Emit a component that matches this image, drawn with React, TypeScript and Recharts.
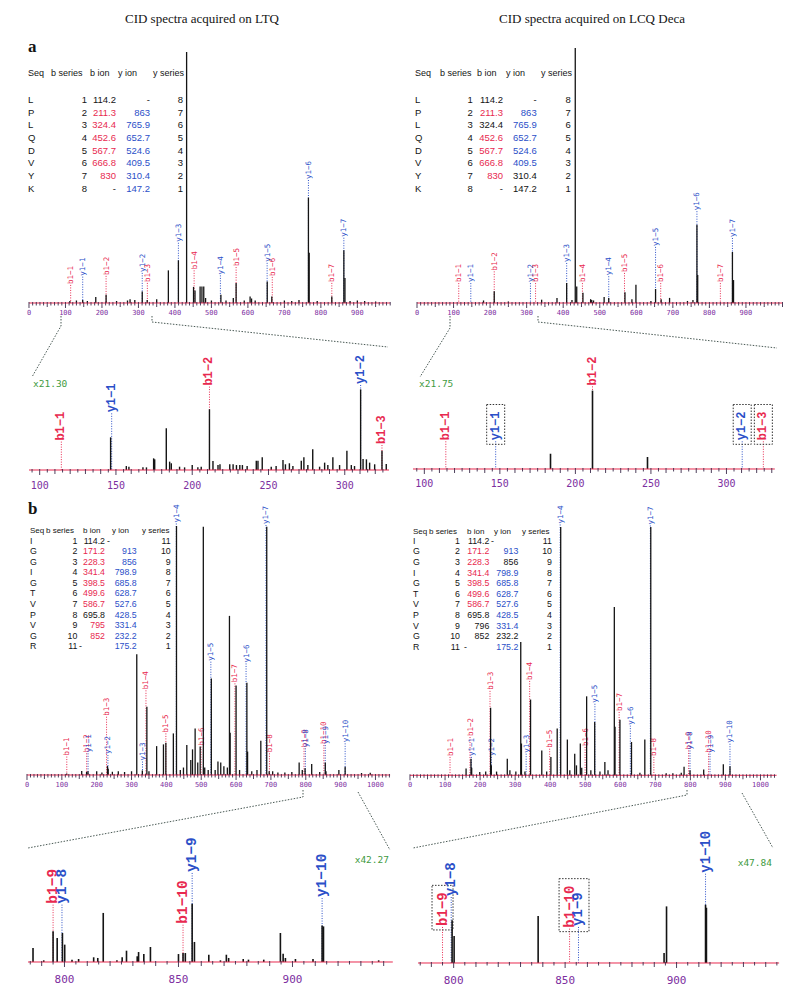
import React from 'react';
import { ComposedChart, Bar, XAxis, YAxis, ReferenceLine } from 'recharts';

type Peak = [number, number];
// [m/z, label position (intensity units), text, ion type, box: true = own box, number = box reaching to that m/z]
type Ann = [number, number, string, 'b' | 'y', (boolean | number)?];

const RED = '#e8294f';
const BLUE = '#2b4fc8';
const PURPLE = '#7d2f9f';
const GREEN = '#3f9b3f';
const INK = '#141414';

const titleLeft = 'CID spectra acquired on LTQ';
const titleRight = 'CID spectra acquired on LCQ Deca';

// ---------- tables ----------
const aSeq = ['L', 'P', 'L', 'Q', 'D', 'V', 'Y', 'K'];
const aBSeries = ['1', '2', '3', '4', '5', '6', '7', '8'];
const aBIon = ['114.2', '211.3', '324.4', '452.6', '567.7', '666.8', '830', '-'];
const aYIon = ['-', '863', '765.9', '652.7', '524.6', '409.5', '310.4', '147.2'];
const aYSeries = ['8', '7', '6', '5', '4', '3', '2', '1'];
const aLtqBCol = 'krrrrrrk';
const aLtqYCol = 'kbbbbbbb';
const aLcqBCol = 'krkrrrrk';
const aLcqYCol = 'kbbbbbkk';

const bSeq = ['I', 'G', 'G', 'I', 'G', 'T', 'V', 'P', 'V', 'G', 'R'];
const bBSeries = ['1', '2', '3', '4', '5', '6', '7', '8', '9', '10', '11'];
const bBIonLtq = ['114.2', '171.2', '228.3', '341.4', '398.5', '499.6', '586.7', '695.8', '795', '852', '-'];
const bBIonLcq = ['114.2', '171.2', '228.3', '341.4', '398.5', '499.6', '586.7', '695.8', '796', '852', '-'];
const bYIon = ['-', '913', '856', '798.9', '685.8', '628.7', '527.6', '428.5', '331.4', '232.2', '175.2'];
const bYSeries = ['11', '10', '9', '8', '7', '6', '5', '4', '3', '2', '1'];
const bLtqBCol = 'krrrrrrkrrk';
const bLtqYCol = 'kbbbbbbbbbb';
const bLcqBCol = 'krrrrrrkkkk';
const bLcqYCol = 'kbkbbbbbbkb';

// ---------- panel a, LTQ ----------
const aLtqPeaks: Peak[] = [
  [112, 0.8], [130, 1.0], [147.2, 1.2], [160, 0.8], [183, 2.4], [211.3, 3.3], [240, 0.8], [270, 1.0], [277, 1.5],
  [290, 1.2], [310.4, 4.6], [324, 1.2], [350, 1.5], [382, 13], [409.5, 17], [432, 100], [451, 6.4], [455, 5],
  [469, 6.6], [474, 6.6], [479, 6.6], [484, 2], [500, 1], [526, 3.3], [540, 1], [560, 2], [567.7, 8], [590, 1],
  [606, 2.6], [610, 1.8], [620, 1], [653, 8.6], [665.5, 2.6], [700, 1], [720, 0.8], [740, 1.2], [765.9, 42],
  [768, 20], [790, 0.8], [830, 2.6], [863, 21], [866, 10], [880, 0.8], [900, 1], [920, 0.8], [950, 0.6],
];
const aLtqAnns: Ann[] = [
  [114.2, 7.2, 'b1−1', 'b'], [147.2, 10.5, 'y1−1', 'y'], [211.3, 10.8, 'b1−2', 'b'], [310.4, 12, 'y1−2', 'y'],
  [324.4, 8, 'b1−3', 'b'], [409.5, 24, 'y1−3', 'y'], [452.6, 13, 'b1−4', 'b'], [524.6, 11, 'y1−4', 'y'],
  [567.7, 14.3, 'b1−5', 'b'], [652.7, 16, 'y1−5', 'y'], [666.8, 10.4, 'b1−6', 'b'], [765.9, 49, 'y1−6', 'y'],
  [830, 8, 'b1−7', 'b'], [863, 26, 'y1−7', 'y'],
];

// ---------- panel a, LCQ Deca ----------
const aLcqPeaks: Peak[] = [
  [182, 1], [211.3, 4.6], [250, 0.6], [341, 1.3], [383, 2], [409.5, 7.8], [424, 1.2], [433, 100], [437, 6.5],
  [454, 4], [475, 1.5], [478, 1.2], [483, 1], [512, 2.4], [524.6, 2], [569, 4.2], [588, 1.5], [599, 7.2],
  [640, 0.8], [652.7, 5.5], [668, 1.5], [691, 2], [740, 0.8], [755, 1.2], [765.9, 30.7], [768, 11], [863, 20],
  [866, 9],
];
const aLcqAnns: Ann[] = [
  [114.2, 7.8, 'b1−1', 'b'], [147.2, 7.8, 'y1−1', 'y'], [211.3, 12.4, 'b1−2', 'b'], [310.4, 7.8, 'y1−2', 'y'],
  [324.4, 7.8, 'b1−3', 'b'], [409.5, 15.7, 'y1−3', 'y'], [452.6, 7.8, 'b1−4', 'b'], [524.6, 10.5, 'y1−4', 'y'],
  [567.7, 11.8, 'b1−5', 'b'], [652.7, 22, 'y1−5', 'y'], [666.8, 7.8, 'b1−6', 'b'], [765.9, 36, 'y1−6', 'y'],
  [830, 7.8, 'b1−7', 'b'], [863, 25.5, 'y1−7', 'y'],
];

// ---------- panel a zooms (m/z 93-330) ----------
const aLtqZoomPeaks: Peak[] = [
  [146.5, 29.7], [156.8, 3.6], [158.5, 3], [167.7, 2.4], [170, 2.4], [174.7, 10.6], [175.4, 9.7], [183, 37.9],
  [185.2, 7.6], [186.3, 6.1], [191.7, 3], [195, 2.4], [200, 4.5], [203.7, 2.4], [205.9, 3], [211.3, 55.2],
  [213.6, 8.2], [216.9, 4.5], [218.2, 5.2], [224.6, 5.2], [226.8, 5.2], [229, 4.5], [231.2, 4.5], [232.9, 4.5],
  [236, 3.6], [242, 8.5], [243.1, 8.5], [245.9, 11.5], [251.8, 3], [255, 3.6], [259.5, 9], [261.1, 5.2],
  [263.7, 6.1], [266, 3.6], [271.5, 8.5], [273.2, 11.5], [275.8, 4.5], [279, 18.8], [283.5, 3], [286.8, 6.7],
  [288.9, 4.5], [292.2, 11.5], [296.6, 4.5], [301.4, 17.6], [304.3, 4.5], [306.4, 3.6], [310.4, 73.3],
  [312, 10], [314.2, 9.7], [316.3, 6.7], [319.6, 5.2], [324.4, 17.6], [327.2, 5.5],
];
const aLtqZoomAnns: Ann[] = [
  [114.2, 25.8, 'b1−1', 'b'], [147.2, 51.5, 'y1−1', 'y'], [211.3, 75.8, 'b1−2', 'b'],
  [310.4, 77.3, 'y1−2', 'y'], [324.4, 22.7, 'b1−3', 'b'],
];
const aLcqZoomPeaks: Peak[] = [[183.5, 14], [211.3, 71.9], [247.7, 11]];
const aLcqZoomAnns: Ann[] = [
  [114.2, 25.4, 'b1−1', 'b'], [147.2, 25.4, 'y1−1', 'y', true], [211.3, 75.8, 'b1−2', 'b'],
  [310.4, 25.4, 'y1−2', 'y', true], [324.4, 25.4, 'b1−3', 'b', true],
];

// ---------- panel b, LTQ ----------
const bLtqPeaks: Peak[] = [
  [114, 0.6], [157, 1.6], [171, 1.2], [175, 1.5], [200, 1.5], [215, 1], [231, 3.6], [233, 2.5], [245, 1.3],
  [262, 1.5], [280, 1.2], [300, 1.5], [315, 48.5], [331, 1.8], [344, 27.4], [350, 1.5], [372, 11.6],
  [391.6, 12.3], [398.5, 13], [420, 16.7], [429, 100], [440, 2], [449, 3], [458.6, 12], [470, 6], [475, 10.3],
  [482.5, 18.7], [490, 5], [497, 11.4], [506, 99.7], [510, 3], [520, 2], [529, 38.8], [540, 2], [548, 5.4],
  [556, 5], [565, 3.5], [575, 3], [581, 63.9], [583, 17], [600, 35.9], [610, 2], [631, 37], [633, 9.4],
  [645, 1.5], [660, 2], [671, 13.8], [688, 99.7], [695, 1.5], [705, 1.5], [720, 1], [740, 1], [760, 1.2],
  [781, 5], [790, 2], [798, 2.7], [817, 4.4], [840, 1.2], [856, 5], [858, 1.5], [895, 2], [913, 3.3],
  [960, 0.8], [985, 0.9],
];
const bLtqAnns: Ann[] = [
  [114.2, 7.4, 'b1−1', 'b'], [171.2, 8.7, 'b1−2', 'b'], [175.2, 8.7, 'y1−1', 'y'], [228.3, 23.4, 'b1−3', 'b'],
  [232.2, 8, 'y1−2', 'y'], [331.4, 5.4, 'y1−3', 'y'], [341.4, 34, 'b1−4', 'b'], [398.5, 16.7, 'b1−5', 'b'],
  [428.5, 101, 'y1−4', 'y'], [499.6, 11.4, 'b1−6', 'b'], [527.6, 45.5, 'y1−5', 'y'], [596.7, 36.8, 'b1−7', 'b'],
  [628.7, 44.8, 'y1−6', 'y'], [685.8, 100.4, 'y1−7', 'y'], [695.8, 8.7, 'b1−8', 'b'], [795, 10.7, 'b1−9', 'b'],
  [798.9, 10.7, 'y1−8', 'y'], [852, 12, 'b1−10', 'b'], [856, 12, 'y1−9', 'y'], [913, 12.7, 'y1−10', 'y'],
];

// ---------- panel b, LCQ Deca ----------
const bLcqPeaks: Peak[] = [
  [160, 2.7], [174, 6.7], [176, 3], [199, 1.3], [216, 1.5], [230, 27.2], [232, 4], [247, 1.5], [277.6, 6.7],
  [285, 2], [302, 1.5], [316, 53.7], [318, 12.8], [328, 1.5], [344, 30.5], [376, 10], [390, 1.5], [402, 7.4],
  [420, 18.8], [430, 100], [449, 14.4], [456, 2], [470, 8.7], [475, 4], [486, 12.8], [490, 3], [504, 31.8],
  [516, 2], [527, 21.5], [542, 1.5], [556, 5.4], [565, 2], [583, 67.8], [585, 19.5], [599, 22.4], [632, 13.4],
  [656, 1], [670, 14.4], [687, 100], [731, 0.8], [750, 0.8], [774, 1], [782, 3.4], [799, 2], [838, 2.3],
  [894, 4.4], [913, 3.6],
];
const bLcqAnns: Ann[] = [
  [114.2, 7.4, 'b1−1', 'b'], [171.2, 15.4, 'b1−2', 'b'], [175.2, 7.4, 'y1−1', 'y'], [228.3, 34, 'b1−3', 'b'],
  [232.2, 7.4, 'y1−2', 'y'], [331.4, 8.7, 'y1−3', 'y'], [341.4, 38, 'b1−4', 'b'], [398.5, 10.7, 'b1−5', 'b'],
  [428.5, 101, 'y1−4', 'y'], [499.6, 11.4, 'b1−6', 'b'], [527.6, 28.8, 'y1−5', 'y'], [596.7, 25.5, 'b1−7', 'b'],
  [628.7, 20, 'y1−6', 'y'], [685.8, 100.6, 'y1−7', 'y'], [695.8, 7.4, 'b1−8', 'b'], [795, 10, 'b1−9', 'b'],
  [798.9, 10, 'y1−8', 'y'], [852, 8.7, 'b1−10', 'b'], [856, 8.7, 'y1−9', 'y'], [913, 12.7, 'y1−10', 'y'],
];

// ---------- panel b zooms (m/z 784-946) ----------
const bLtqZoomPeaks: Peak[] = [
  [786.2, 12.5], [790.9, 1.5], [795, 27.4], [796.8, 21.4], [799.1, 25.9], [800.1, 15.5], [803.3, 2.1],
  [806.2, 2.7], [812.8, 4.2], [814.6, 3.6], [817, 43.8], [823, 1.5], [825.3, 4.2], [827.2, 10.1], [831.9, 5.1],
  [832.5, 8.9], [834.8, 7.1], [837.7, 13.4], [850, 7.1], [852, 8], [853, 8], [856, 52.1], [857, 17.9],
  [863.3, 6.5], [868.4, 1.5], [871, 6.5], [872, 3.6], [878.4, 2.7], [880.7, 2.1], [887.4, 2.1], [894.7, 25.9],
  [895.9, 7.4], [896.9, 3.6], [901.3, 2.7], [909, 2.7], [913, 32.7], [913.6, 31.8], [937.8, 1.5],
];
const bLtqZoomAnns: Ann[] = [
  [795, 51.2, 'b1−9', 'b'], [798.9, 51.2, 'y1−8', 'y'], [852, 33.3, 'b1−10', 'b'], [856, 79.5, 'y1−9', 'y'],
  [913, 57.1, 'y1−10', 'y'],
];
const bLcqZoomPeaks: Peak[] = [
  [799.3, 37.8], [800.2, 23.9], [837.9, 41.6], [894.4, 8.8], [895.5, 50.1], [913, 51.6], [913.4, 48.9],
];
const bLcqZoomAnns: Ann[] = [
  [795, 31.9, 'b1−9', 'b', true], [798.9, 58.4, 'y1−8', 'y'], [852, 30.4, 'b1−10', 'b', 856],
  [856, 31.9, 'y1−9', 'y'], [913, 79, 'y1−10', 'y'],
];

// tick labels
const mainTicksA = [0, 100, 200, 300, 400, 500, 600, 700, 800, 900];
const mainTicksB = [0, 100, 200, 300, 400, 500, 600, 700, 800, 900, 1000];
const zoomTicksA = [100, 150, 200, 250, 300];
const zoomTicksB = [800, 850, 900];

function range(a: number, b: number, s: number) {
  const out: number[] = [];
  for (let v = Math.ceil(a / s - 1e-9) * s; v <= b + 1e-9; v += s) out.push(Math.round(v * 100) / 100);
  return out;
}

type SpecProps = {
  plotLeft: number; plotTop: number; plotW: number; plotH: number;
  domain: [number, number]; yMax: number;
  peaks: Peak[]; anns: Ann[];
  tickLabels: number[]; tickStep: number; majorStep: number;
  tickFont: number; tickDy: number;
  labelFont: number; labelBold: boolean; peakWidth: number; padTop: number;
};

function Spectrum(p: SpecProps) {
  const ML = 6, MR = 6, HX = 26;
  const axisY = p.padTop + p.plotH;
  const ppu = p.plotW / (p.domain[1] - p.domain[0]);
  const data = [
    ...p.peaks.map(([mz, h]) => ({ mz, h })),
    ...p.anns.map(([mz, pos, label, kind, box]) => ({ mz, ann: pos, label, kind, box: box ?? false })),
  ];
  const ticks = range(p.domain[0], p.domain[1], p.tickStep);
  const mono = '"DejaVu Sans Mono", "Liberation Mono", monospace';
  const labelFamily = p.labelBold ? '"Liberation Mono", monospace' : '"DejaVu Sans Mono", monospace';

  const tickRenderer = (props: any) => {
    const { x, payload } = props;
    const v = payload.value;
    const isLabel = p.tickLabels.includes(v);
    const isMajor = Math.abs(v / p.majorStep - Math.round(v / p.majorStep)) < 1e-6;
    const len = isLabel ? 5 : isMajor ? 4 : 2.5;
    return (
      <g>
        <line x1={x} x2={x} y1={axisY - 1} y2={axisY + len} stroke="#3a2a4a" strokeWidth={0.9} />
        {isLabel && (
          <text x={x} y={axisY + p.tickDy} textAnchor="middle" dominantBaseline="central" fontSize={p.tickFont}
            fill={PURPLE} fontFamily={mono}>{v}</text>
        )}
      </g>
    );
  };

  const peakShape = (props: any) => {
    const { x, y, width, height, payload } = props;
    if (!payload || payload.h == null || !isFinite(y) || !isFinite(height)) return <g />;
    const cx = x + (width || 0) / 2;
    return <line x1={cx} x2={cx} y1={y} y2={y + height} stroke={INK} strokeWidth={p.peakWidth} />;
  };

  const annShape = (props: any) => {
    const { x, y, width, height, payload } = props;
    if (!payload || payload.ann == null || !isFinite(y) || !isFinite(height)) return <g />;
    const cx = x + (width || 0) / 2;
    const col = payload.kind === 'b' ? RED : BLUE;
    const fs = p.labelFont;
    const tl = payload.label.length * fs * 0.6;
    const box = payload.box;
    const extra = typeof box === 'number' ? (box - payload.mz) * ppu : 0;
    return (
      <g>
        <line x1={cx} x2={cx} y1={y} y2={y + height} stroke={col} strokeWidth={1} strokeDasharray="1 1.5" />
        <text transform={`translate(${cx},${y - 1}) rotate(-90)`} textAnchor="start" dominantBaseline="central"
          fontSize={fs} fontWeight={p.labelBold ? 'bold' : 'normal'} fill={col} fontFamily={labelFamily}>
          {payload.label}
        </text>
        {box !== false && (
          <rect x={cx - fs * 0.75} y={y - tl - 8} width={fs * 1.5 + extra} height={tl + 11} fill="none" stroke="#333"
            strokeWidth={1} strokeDasharray="1.5 1.5" />
        )}
      </g>
    );
  };

  return (
    <div style={{ position: 'absolute', left: p.plotLeft - ML, top: p.plotTop - p.padTop }}>
      <ComposedChart width={p.plotW + ML + MR} height={p.padTop + p.plotH + HX} data={data}
        margin={{ top: p.padTop, right: MR, bottom: 0, left: ML }}>
        <XAxis xAxisId="pk" dataKey="mz" type="number" domain={p.domain} ticks={ticks} interval={0}
          tickLine={false} tickSize={0} tickMargin={0} axisLine={{ stroke: '#2a2030', strokeWidth: 2 }}
          height={HX} tick={tickRenderer} />
        <XAxis xAxisId="an" dataKey="mz" type="number" domain={p.domain} hide />
        <YAxis yAxisId="i" type="number" domain={[0, p.yMax]} hide />
        <Bar xAxisId="an" yAxisId="i" dataKey="ann" isAnimationActive={false} shape={annShape} />
        <Bar xAxisId="pk" yAxisId="i" dataKey="h" isAnimationActive={false} shape={peakShape} />
        <ReferenceLine xAxisId="pk" yAxisId="i" y={0} stroke={RED} strokeWidth={1} />
      </ComposedChart>
    </div>
  );
}

type TableProps = {
  seq: string[]; bs: string[]; bIon: string[]; yIon: string[]; ys: string[];
  bCol: string; yCol: string;
  seqX: number; cols: [number, number, number, number];
  head: [number, number, number, number, number]; headY: number; headFs: number;
  rowY: number; rowStep: number; fs: number;
  bDashX?: number; yDashX?: number;
};

const colorOf = (c: string) => (c === 'r' ? RED : c === 'b' ? BLUE : INK);

function Table(t: TableProps) {
  const fam = '"Liberation Sans", Arial, sans-serif';
  const heads = ['Seq', 'b series', 'b ion', 'y ion', 'y series'];
  return (
    <g fontFamily={fam} fontSize={t.fs}>
      {heads.map((h, i) => (
        <text key={h} x={t.head[i]} y={t.headY} dominantBaseline="central" fill={INK} fontSize={t.headFs}>{h}</text>
      ))}
      {t.seq.map((s, i) => {
        const yy = t.rowY + i * t.rowStep;
        const bDash = t.bIon[i] === '-' && t.bDashX != null;
        const yDash = t.yIon[i] === '-' && t.yDashX != null;
        return (
          <g key={i}>
            <text x={t.seqX} y={yy} dominantBaseline="central" fill={INK}>{s}</text>
            <text x={t.cols[0]} y={yy} dominantBaseline="central" textAnchor="end" fill={INK}>{t.bs[i]}</text>
            <text x={bDash ? t.bDashX : t.cols[1]} y={yy} dominantBaseline="central" textAnchor="end"
              fill={colorOf(t.bCol[i])}>{t.bIon[i]}</text>
            <text x={yDash ? t.yDashX : t.cols[2]} y={yy} dominantBaseline="central" textAnchor="end"
              fill={colorOf(t.yCol[i])}>{t.yIon[i]}</text>
            <text x={t.cols[3]} y={yy} dominantBaseline="central" textAnchor="end" fill={INK}>{t.ys[i]}</text>
          </g>
        );
      })}
    </g>
  );
}

export default function App() {
  const serif = '"Liberation Serif", "DejaVu Serif", serif';
  const mono = '"DejaVu Sans Mono", monospace';
  const dash = { stroke: '#4a5a55', strokeWidth: 1, strokeDasharray: '1.5 1.5', fill: 'none' };
  return (
    <div style={{ position: 'absolute', left: 0, top: 0, width: 800, height: 992, background: '#fff', overflow: 'hidden' }}>
      <Spectrum plotLeft={29} plotTop={52} plotW={361.2} plotH={251} domain={[0, 990]} yMax={100}
        peaks={aLtqPeaks} anns={aLtqAnns} tickLabels={mainTicksA} tickStep={10} majorStep={50}
        tickFont={7} tickDy={10} labelFont={7.5} labelBold={false} peakWidth={1.3} padTop={20} />
      <Spectrum plotLeft={416.8} plotTop={48} plotW={365.5} plotH={255} domain={[0, 1000]} yMax={100}
        peaks={aLcqPeaks} anns={aLcqAnns} tickLabels={mainTicksA} tickStep={10} majorStep={50}
        tickFont={7} tickDy={10} labelFont={7.5} labelBold={false} peakWidth={1.3} padTop={20} />
      <Spectrum plotLeft={29.4} plotTop={360} plotW={360} plotH={110} domain={[93, 329]} yMax={100}
        peaks={aLtqZoomPeaks} anns={aLtqZoomAnns} tickLabels={zoomTicksA} tickStep={5} majorStep={10}
        tickFont={10} tickDy={15} labelFont={12} labelBold={true} peakWidth={1.4} padTop={30} />
      <Spectrum plotLeft={413.2} plotTop={360} plotW={361.8} plotH={109} domain={[92.5, 332]} yMax={100}
        peaks={aLcqZoomPeaks} anns={aLcqZoomAnns} tickLabels={zoomTicksA} tickStep={5} majorStep={10}
        tickFont={10} tickDy={15} labelFont={12} labelBold={true} peakWidth={1.6} padTop={30} />
      <Spectrum plotLeft={26.9} plotTop={521} plotW={363.1} plotH={254} domain={[0, 1042]} yMax={102}
        peaks={bLtqPeaks} anns={bLtqAnns} tickLabels={mainTicksB} tickStep={10} majorStep={50}
        tickFont={7} tickDy={10} labelFont={7.5} labelBold={false} peakWidth={1.3} padTop={30} />
      <Spectrum plotLeft={410} plotTop={521.7} plotW={366.6} plotH={253.3} domain={[0, 1046]} yMax={102}
        peaks={bLcqPeaks} anns={bLcqAnns} tickLabels={mainTicksB} tickStep={10} majorStep={50}
        tickFont={7} tickDy={10} labelFont={7.5} labelBold={false} peakWidth={1.3} padTop={30} />
      <Spectrum plotLeft={27.6} plotTop={850} plotW={364.8} plotH={112} domain={[784, 944]} yMax={100}
        peaks={bLtqZoomPeaks} anns={bLtqZoomAnns} tickLabels={zoomTicksB} tickStep={5} majorStep={10}
        tickFont={11} tickDy={18} labelFont={14.5} labelBold={true} peakWidth={1.6} padTop={50} />
      <Spectrum plotLeft={418.2} plotTop={850} plotW={361.1} plotH={113} domain={[784, 946]} yMax={100}
        peaks={bLcqZoomPeaks} anns={bLcqZoomAnns} tickLabels={zoomTicksB} tickStep={5} majorStep={10}
        tickFont={11} tickDy={18} labelFont={14} labelBold={true} peakWidth={1.6} padTop={50} />

      <svg width={800} height={992} style={{ position: 'absolute', left: 0, top: 0, pointerEvents: 'none' }}>
        <text x={202} y={18} textAnchor="middle" dominantBaseline="central" fontFamily={serif} fontSize={13} fill={INK}>{titleLeft}</text>
        <text x={592} y={18} textAnchor="middle" dominantBaseline="central" fontFamily={serif} fontSize={13} fill={INK}>{titleRight}</text>
        <text x={28} y={52} fontFamily={serif} fontSize={17} fontWeight="bold" fill={INK}>a</text>
        <text x={28} y={514} fontFamily={serif} fontSize={17} fontWeight="bold" fill={INK}>b</text>

        <Table seq={aSeq} bs={aBSeries} bIon={aBIon} yIon={aYIon} ys={aYSeries} bCol={aLtqBCol} yCol={aLtqYCol}
          seqX={28} cols={[87, 116, 150, 183]} head={[28, 51, 90, 118, 153]} headY={73} headFs={9} rowY={99.3} rowStep={12.7} fs={9.5} />
        <Table seq={aSeq} bs={aBSeries} bIon={aBIon} yIon={aYIon} ys={aYSeries} bCol={aLcqBCol} yCol={aLcqYCol}
          seqX={415} cols={[472.7, 503, 536.7, 570.7]} head={[415, 440, 477, 506, 541]} headY={73} headFs={9} rowY={99.3} rowStep={12.7} fs={9.5} />
        <Table seq={bSeq} bs={bBSeries} bIon={bBIonLtq} yIon={bYIon} ys={bYSeries} bCol={bLtqBCol} yCol={bLtqYCol}
          seqX={30} cols={[77.3, 105, 136.7, 170.7]} head={[30, 46, 83, 112, 142]} headY={530} headFs={8} rowY={540.7} rowStep={10.55} fs={8.8}
          bDashX={82} yDashX={110} />
        <Table seq={bSeq} bs={bBSeries} bIon={bBIonLcq} yIon={bYIon} ys={bYSeries} bCol={bLcqBCol} yCol={bLcqYCol}
          seqX={413} cols={[460, 489.3, 518.3, 552]} head={[413, 429, 467, 494, 522]} headY={531} headFs={8} rowY={540.7} rowStep={10.6} fs={8.8}
          bDashX={467} yDashX={494} />

        <polyline points="61,316 61,326 32,377" {...dash} />
        <polyline points="152,316 152,322 388,347" {...dash} />
        <polyline points="450,316 450,328 420,377" {...dash} />
        <polyline points="538,316 538,322 777,348" {...dash} />
        <polyline points="303,790 303,797 28,848" {...dash} />
        <polyline points="358,792 390,850" {...dash} />
        <polyline points="687,790 687,795 413,848" {...dash} />
        <polyline points="742,793 773,848" {...dash} />

        <text x={33} y={383} dominantBaseline="central" fontFamily={mono} fontSize={9.5} fill={GREEN}>x21.30</text>
        <text x={419} y={383} dominantBaseline="central" fontFamily={mono} fontSize={9.5} fill={GREEN}>x21.75</text>
        <text x={389} y={859} textAnchor="end" dominantBaseline="central" fontFamily={mono} fontSize={9.5} fill={GREEN}>x42.27</text>
        <text x={772} y={862} textAnchor="end" dominantBaseline="central" fontFamily={mono} fontSize={9.5} fill={GREEN}>x47.84</text>
      </svg>
    </div>
  );
}
